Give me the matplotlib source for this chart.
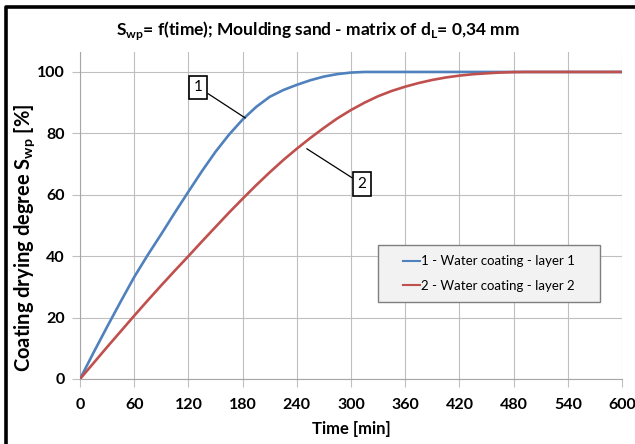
import matplotlib.pyplot as plt
from matplotlib.lines import Line2D
from matplotlib.patches import Rectangle

# drying degree, every 15 min
time = list(range(0, 601, 15))
layer1 = [0, 8.6, 17, 25.2, 33.2, 40.4, 47.2, 54.2, 61, 67.7, 74, 79.6, 84.5,
          88.6, 91.9, 94.1, 95.8, 97.3, 98.5, 99.3, 99.8, 100, 100, 100, 100,
          100, 100, 100, 100, 100, 100, 100, 100, 100, 100, 100, 100, 100, 100,
          100, 100]
layer2 = [0, 5.2, 10.4, 15.5, 20.6, 25.6, 30.5, 35.3, 40, 44.8, 49.5, 54.2,
          58.7, 63.1, 67.3, 71.3, 75, 78.5, 81.8, 84.9, 87.6, 90, 92.1, 93.8,
          95.2, 96.4, 97.4, 98.2, 98.8, 99.25, 99.55, 99.8, 99.95, 100, 100,
          100, 100, 100, 100, 100, 100]
xticks = list(range(0, 601, 60))
yticks = list(range(0, 101, 20))

plt.rcParams['font.family'] = ['Lato', 'DejaVu Sans']
plt.rcParams['mathtext.fontset'] = 'custom'
plt.rcParams['mathtext.bf'] = 'Lato:bold'
plt.rcParams['mathtext.rm'] = 'Lato'

fig = plt.figure(figsize=(6.35, 4.44), dpi=100)
ax = fig.add_axes([0.126, 0.1464, 0.8535, 0.7365])

grid_c = '#bfbfbf'
ax.plot(time, layer1, color='#4f81bd', lw=1.9, label='1 - Water coating - layer 1', zorder=3)
ax.plot(time, layer2, color='#c0504d', lw=1.9, label='2 - Water coating - layer 2', zorder=3)

ax.set_xlim(0, 600)
ax.set_ylim(0, 106.5)
ax.set_xticks(xticks)
ax.set_yticks(yticks)
ax.grid(True, color=grid_c, lw=0.8)
ax.set_axisbelow(True)
for s in ['top', 'right']:
    ax.spines[s].set_visible(False)
for s in ['left', 'bottom']:
    ax.spines[s].set_color('#a6a6a6')
ax.tick_params(length=6, color=grid_c, labelsize=11.5, pad=5)
ax.tick_params(axis='x', pad=8)
for lab in ax.get_xticklabels() + ax.get_yticklabels():
    lab.set_fontweight('bold')

ax.set_xlabel('Time [min]', fontsize=12, fontweight='bold', labelpad=6)
ax.set_ylabel('Coating drying degree S$_{\\mathbf{wp}}$ [%]', fontsize=14.5,
              fontweight='bold', va='center')
ax.yaxis.set_label_coords(-0.1015, 0.4327)
fig.suptitle('S$_{\\mathbf{wp}}$= f(time); Moulding sand - matrix of d$_{\\mathbf{L}}$= 0,34 mm',
             fontsize=12.5, fontweight='bold', y=0.958)

box = dict(boxstyle='square,pad=0.3', fc='white', ec='black', lw=1.2)
ax.annotate('1', xy=(183, 85), xytext=(131, 95), fontsize=11, ha='center', va='center',
            bbox=box, arrowprops=dict(arrowstyle='-', color='black', lw=0.9,
                                      shrinkA=0, shrinkB=0))
ax.annotate('2', xy=(251, 75), xytext=(312, 63.5), fontsize=11, ha='center', va='center',
            bbox=box, arrowprops=dict(arrowstyle='-', color='black', lw=0.9,
                                      shrinkA=0, shrinkB=0))

# legend frame drawn by hand so the side padding matches
ax.add_patch(Rectangle((0.55, 0.2355), 0.409, 0.1743, transform=ax.transAxes,
                       fc='#f2f2f2', ec='#7f7f7f', lw=1.0, zorder=4))
leg = ax.legend(loc='center', bbox_to_anchor=(0.7545, 0.3226), fontsize=9.5,
                frameon=False, handlelength=1.3, handletextpad=0.1,
                labelspacing=0.95)
leg.set_zorder(5)
for h in leg.get_lines():
    h.set_linewidth(1.5)

fig.add_artist(Line2D([0.0095, 0.0095, 1.0], [0.0, 0.9845, 0.9845],
                      transform=fig.transFigure, color='black', lw=2.6))

fig.savefig('out.png', dpi=100)
